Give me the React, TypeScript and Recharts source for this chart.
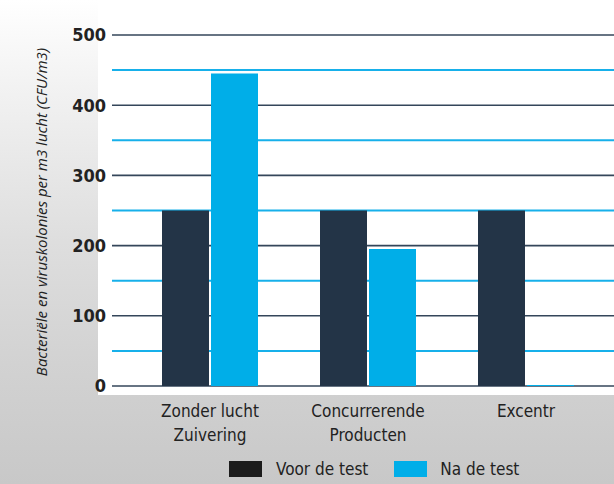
import React from "react";
import { BarChart, Bar, XAxis, YAxis, CartesianGrid } from "recharts";

const categories = ["Zonder lucht\nZuivering", "Concurrerende\nProducten", "Excentr"];
const voorDeTest = [250, 250, 250];
const naDeTest = [445, 195, 1.5];
const yTicks = [0, 50, 100, 150, 200, 250, 300, 350, 400, 450, 500];
const seriesNames = ["Voor de test", "Na de test"];

const data = categories.map((c, i) => ({ name: c, voor: voorDeTest[i], na: naDeTest[i] }));

const DARK = "#233447";
const CYAN = "#00aee8";
const FONT = "'DejaVu Sans Condensed', 'DejaVu Sans', sans-serif";

const GridLine = (props: any) => {
  const { x1, x2, y1, y2, index } = props;
  const dark = index % 2 === 0;
  return (
    <line
      key={props.key ?? index}
      x1={x1 + 2}
      x2={x2}
      y1={y1}
      y2={y2}
      stroke={dark ? "#34465a" : "#17b0ea"}
      strokeWidth={dark ? 1.6 : 2}
    />
  );
};

const XTick = (props: any) => {
  const { x, y, payload } = props;
  const lines = String(payload.value).split("\n");
  return (
    <g transform={`translate(${x},${y})`}>
      {lines.map((l, i) => (
        <text
          key={i}
          x={0}
          y={i * 24}
          dy={23}
          textAnchor="middle"
          fill="#222"
          fontSize={17}
          fontWeight={500}
          fontFamily={FONT}
        >
          {l}
        </text>
      ))}
    </g>
  );
};

export default function App() {
  return (
    <div
      style={{
        position: "absolute",
        left: 0,
        top: 0,
        width: 614,
        height: 484,
        overflow: "hidden",
        background:
          "linear-gradient(180deg, #ffffff 0%, #f2f2f2 18%, #dedede 50%, #d2d2d2 75%, #c8c8c8 100%)",
      }}
    >
      <div
        style={{
          position: "absolute",
          left: 98,
          top: 0,
          width: 516,
          height: 395,
          background: "#ffffff",
        }}
      />
      <div style={{ position: "absolute", left: 0, top: 0 }}>
        <BarChart
          width={614}
          height={484}
          data={data}
          margin={{ top: 35, right: 0, bottom: 38, left: 0 }}
          barGap={2}
          barSize={47}
        >
          <CartesianGrid vertical={false} horizontal={GridLine as any} />
          <XAxis
            dataKey="name"
            axisLine={false}
            tickLine={false}
            height={60}
            padding={{ left: 21, right: 9 }}
            tick={<XTick />}
            interval={0}
          />
          <YAxis
            width={110}
            domain={[0, 500]}
            ticks={yTicks}
            interval={0}
            axisLine={false}
            tickLine={false}
            tickSize={0}
            tickMargin={4}
            tickFormatter={(v: number) => (v % 100 === 0 ? String(v) : "")}
            tick={{ fill: "#222", fontSize: 18, fontWeight: 700, fontFamily: FONT }}
          />
          <Bar dataKey="voor" name={seriesNames[0]} fill={DARK} isAnimationActive={false} />
          <Bar dataKey="na" name={seriesNames[1]} fill={CYAN} isAnimationActive={false} />
        </BarChart>
      </div>
      <div
        style={{
          position: "absolute",
          left: 41,
          top: 212,
          transform: "translate(-50%, -50%) rotate(-90deg)",
          whiteSpace: "nowrap",
          fontFamily: "'Open Sans', sans-serif",
          fontStyle: "italic",
          fontSize: 15,
          color: "#222",
        }}
      >
        Bacteriële en viruskolonies per m3 lucht (CFU/m3)
      </div>
      <div
        style={{
          position: "absolute",
          left: 229,
          top: 459,
          display: "flex",
          alignItems: "center",
          fontFamily: FONT,
          fontSize: 17,
          fontWeight: 500,
          color: "#222",
          whiteSpace: "nowrap",
        }}
      >
        <span style={{ display: "inline-block", width: 33, height: 16, background: "#1c1c1c" }} />
        <span style={{ marginLeft: 14 }}>{seriesNames[0]}</span>
        <span
          style={{ display: "inline-block", width: 33, height: 16, background: CYAN, marginLeft: 26 }}
        />
        <span style={{ marginLeft: 13 }}>{seriesNames[1]}</span>
      </div>
    </div>
  );
}
